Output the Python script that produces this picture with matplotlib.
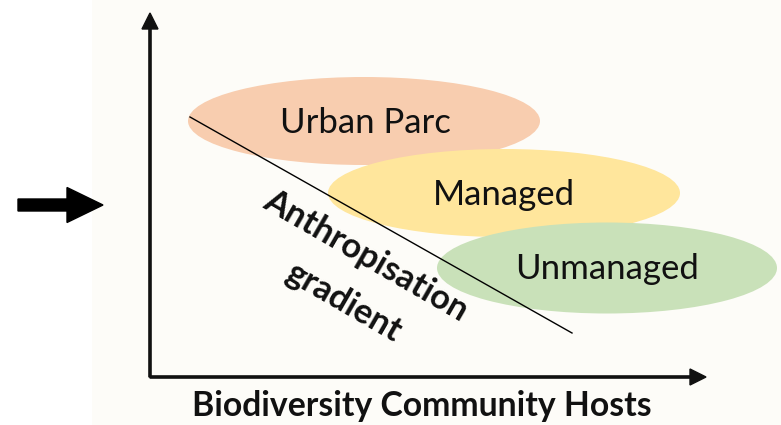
import matplotlib
matplotlib.use("Agg")
import matplotlib.pyplot as plt
from matplotlib.patches import Ellipse, FancyArrow, Rectangle

# ---- data (pixel-space concept diagram) ----
labels = ["Urban Parc", "Managed", "Unmanaged"]
centers_x = [364, 504, 607]
centers_y = [121, 193, 268]
widths = [352, 352, 340]
heights = [88, 88, 91]
colors = ["#F8CDAF", "#FFE69C", "#C9E1B9"]
label_x = [365, 504, 607]
label_y = [123, 195, 269]

gradient_line_x = [190, 572]
gradient_line_y = [117, 333]
gradient_words = ["Anthropisation", "gradient"]
gradient_word_x = [366, 343]
gradient_word_y = [256, 302]
xlabel_text = "Biodiversity Community Hosts"

W, H = 781, 425
fig = plt.figure(figsize=(W / 100, H / 100), dpi=100)
fig.patch.set_facecolor("#FDFCF8")
ax = fig.add_axes([0, 0, 1, 1])
ax.set_xlim(0, W)
ax.set_ylim(H, 0)
ax.axis("off")

ax.add_patch(Rectangle((0, 0), 92, H, facecolor="white", edgecolor="none", zorder=0))

for cx, cy, w, h, c in zip(centers_x, centers_y, widths, heights, colors):
    ax.add_patch(Ellipse((cx, cy), w, h, facecolor=c, edgecolor="none", zorder=1))

for t, x, y in zip(labels, label_x, label_y):
    ax.text(x, y, t, ha="center", va="center", fontsize=25, family="Lato",
            color="#111111", zorder=3)

ax.plot(gradient_line_x, gradient_line_y, color="black", lw=1.0, zorder=2)

for t, x, y in zip(gradient_words, gradient_word_x, gradient_word_y):
    ax.text(x, y, t, ha="center", va="center", rotation=-30,
            rotation_mode="anchor", fontsize=24.8, fontweight="bold", family="Lato",
            color="#111111", zorder=3)

# axes arrows
ax.add_patch(FancyArrow(150, 377, 0, -364, width=2.2, head_width=16, head_length=16,
                        length_includes_head=True, color="#111111", zorder=2))
ax.add_patch(FancyArrow(150, 377, 556, 0, width=2.2, head_width=16, head_length=16,
                        length_includes_head=True, color="#111111", zorder=2))

# left arrow
ax.add_patch(FancyArrow(18, 205, 85, 0, width=12, head_width=35, head_length=36,
                        length_includes_head=True, color="black", zorder=2))

ax.text(422, 416, xlabel_text, ha="center", va="baseline", fontsize=24.3,
        fontweight="bold", family="Lato", color="#111111", zorder=3)

fig.savefig("out.png", dpi=100, facecolor=fig.get_facecolor())
